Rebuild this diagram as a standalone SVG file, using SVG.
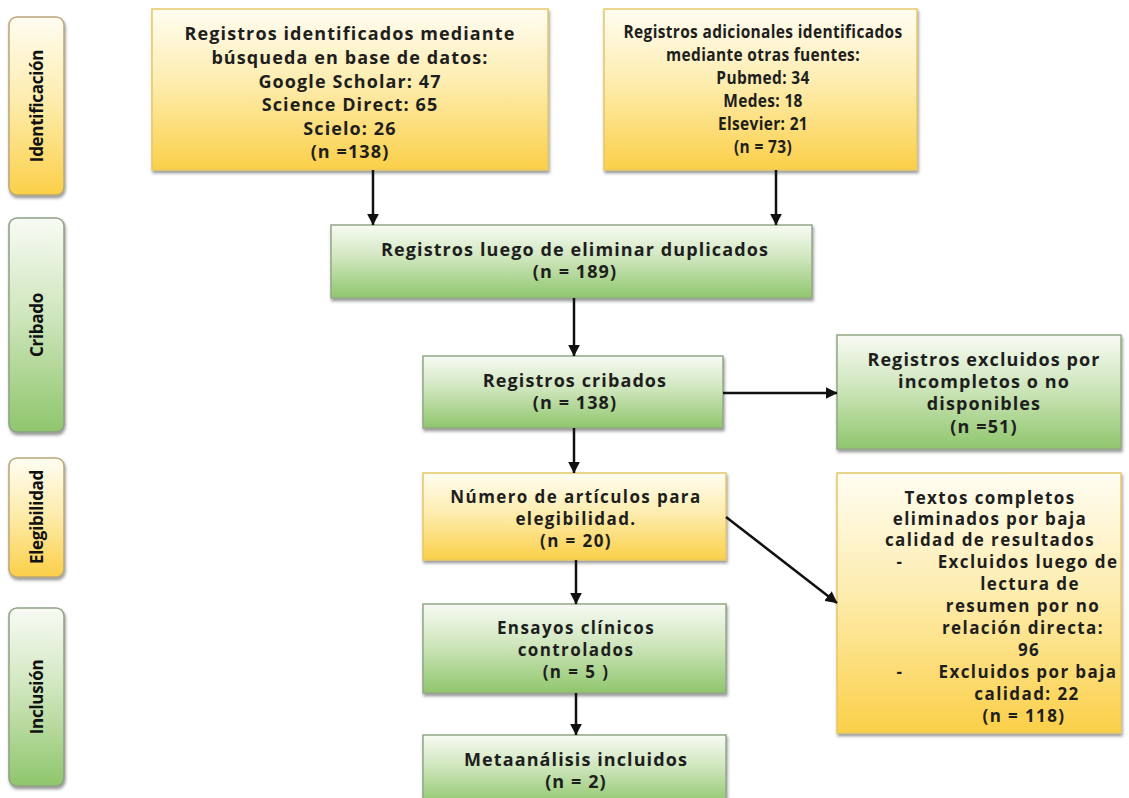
<svg xmlns="http://www.w3.org/2000/svg" width="1129" height="798" viewBox="0 0 1129 798">
<defs>
<linearGradient id="gy" x1="0" y1="0" x2="0" y2="1">
<stop offset="0" stop-color="#fffdf2"/>
<stop offset="0.45" stop-color="#fdedb0"/>
<stop offset="1" stop-color="#fbcf48"/>
</linearGradient>
<linearGradient id="gg" x1="0" y1="0" x2="0" y2="1">
<stop offset="0" stop-color="#f8fbf4"/>
<stop offset="0.45" stop-color="#cfe6bd"/>
<stop offset="1" stop-color="#8fc66c"/>
</linearGradient>
<filter id="sh" x="-5%" y="-5%" width="112%" height="115%">
<feDropShadow dx="1" dy="2.5" stdDeviation="1.5" flood-color="#444" flood-opacity="0.55"/>
</filter>
<marker id="ah" viewBox="0 0 10 10" refX="9.5" refY="5" markerWidth="4.8" markerHeight="4.8" orient="auto" markerUnits="strokeWidth">
<path d="M0,0 L10,5 L0,10 Z" fill="#111"/>
</marker>
<style>
.y{fill:url(#gy);stroke:#e6c867;stroke-width:1.5;filter:url(#sh)}
.g{fill:url(#gg);stroke:#93a887;stroke-width:1.5;filter:url(#sh)}
.sy{fill:url(#gy);stroke:#b9a779;stroke-width:1.5;filter:url(#sh)}
.sg{fill:url(#gg);stroke:#8fa084;stroke-width:1.5;filter:url(#sh)}
text{font-family:"Open Sans","Liberation Sans",sans-serif;font-weight:700;fill:#1e1e1e;font-size:18px;letter-spacing:1.1px;text-anchor:middle}
.m{font-size:17px;letter-spacing:1.4px}
.s2{font-size:18px;letter-spacing:0.4px}
.side{font-size:17px;letter-spacing:-0.3px;fill:#111}
.c{stroke:#111;stroke-width:2.5;fill:none;marker-end:url(#ah)}
</style>
</defs>

<g id="lbl-identificacion">
<rect class="sy" x="9" y="17" width="55" height="178" rx="8"/>
<text class="side" transform="translate(43,106) rotate(-90)">Identificación</text>
</g>
<g id="lbl-cribado">
<rect class="sg" x="9" y="218" width="55" height="214" rx="8"/>
<text class="side" transform="translate(43,325) rotate(-90)">Cribado</text>
</g>
<g id="lbl-elegibilidad">
<rect class="sy" x="9" y="458" width="55" height="119" rx="8"/>
<text class="side" transform="translate(43,517) rotate(-90)">Elegibilidad</text>
</g>
<g id="lbl-inclusion">
<rect class="sg" x="9" y="608" width="55" height="178" rx="8"/>
<text class="side" transform="translate(43,697) rotate(-90)">Inclusión</text>
</g>

<g id="n-bases">
<rect class="y" x="152" y="9" width="396" height="161"/>
<text x="350" y="40">Registros identificados mediante</text>
<text x="350" y="64">búsqueda en base de datos:</text>
<text x="350" y="88">Google Scholar: 47</text>
<text x="350" y="111">Science Direct: 65</text>
<text x="350" y="135">Scielo: 26</text>
<text x="350" y="158">(n =138)</text>
</g>

<g id="n-otras">
<rect class="y" x="604" y="9" width="313" height="161"/>
<g transform="translate(763,0) scale(0.86,1)">
<text class="s2" x="0" y="38">Registros adicionales identificados</text>
<text class="s2" x="0" y="61">mediante otras fuentes:</text>
<text class="s2" x="0" y="84">Pubmed: 34</text>
<text class="s2" x="0" y="107">Medes: 18</text>
<text class="s2" x="0" y="130">Elsevier: 21</text>
<text class="s2" x="0" y="153">(n = 73)</text>
</g>
</g>

<g id="n-duplicados">
<rect class="g" x="331" y="225" width="481" height="73"/>
<text x="575" y="256">Registros luego de eliminar duplicados</text>
<text x="575" y="278">(n = 189)</text>
</g>

<g id="n-cribados">
<rect class="g" x="423" y="356" width="300" height="72"/>
<text x="575" y="387">Registros cribados</text>
<text x="575" y="409">(n = 138)</text>
</g>

<g id="n-excluidos">
<rect class="g" x="837" y="335" width="284" height="114"/>
<text x="984" y="366">Registros excluidos por</text>
<text x="984" y="388">incompletos o no</text>
<text x="984" y="410">disponibles</text>
<text x="984" y="433">(n =51)</text>
</g>

<g id="n-elegibilidad">
<rect class="y" x="423" y="473" width="303" height="87"/>
<text class="m" x="576" y="503">Número de artículos para</text>
<text class="m" x="576" y="525">elegibilidad.</text>
<text class="m" x="576" y="547">(n = 20)</text>
</g>

<g id="n-textos">
<rect class="y" x="837" y="473" width="284" height="260"/>
<text class="m" x="990" y="504">Textos completos</text>
<text class="m" x="990" y="525">eliminados por baja</text>
<text class="m" x="990" y="546">calidad de resultados</text>
<text class="m" x="900" y="568">-</text>
<text class="m" x="1028" y="568">Excluidos luego de</text>
<text class="m" x="1030" y="590">lectura de</text>
<text class="m" x="1023" y="612">resumen por no</text>
<text class="m" x="1023" y="634">relación directa:</text>
<text class="m" x="1029" y="656">96</text>
<text class="m" x="900" y="678">-</text>
<text class="m" x="1028" y="678">Excluidos por baja</text>
<text class="m" x="1027" y="700">calidad: 22</text>
<text class="m" x="1024" y="722">(n = 118)</text>
</g>

<g id="n-ensayos">
<rect class="g" x="423" y="604" width="303" height="89"/>
<text class="m" x="576" y="634">Ensayos clínicos</text>
<text class="m" x="576" y="656">controlados</text>
<text class="m" x="576" y="678">(n = 5 )</text>
</g>

<g id="n-meta">
<rect class="g" x="423" y="735" width="303" height="70"/>
<text x="576" y="766">Metaanálisis incluidos</text>
<text x="576" y="788">(n = 2)</text>
</g>

<g id="connectors">
<line class="c" x1="373" y1="170" x2="373" y2="225"/>
<line class="c" x1="776" y1="170" x2="776" y2="225"/>
<line class="c" x1="574" y1="298" x2="574" y2="356"/>
<line class="c" x1="723" y1="393" x2="837" y2="393"/>
<line class="c" x1="574" y1="428" x2="574" y2="473"/>
<line class="c" x1="726" y1="517" x2="837" y2="603"/>
<line class="c" x1="576" y1="560" x2="576" y2="604"/>
<line class="c" x1="576" y1="693" x2="576" y2="735"/>
</g>
</svg>
